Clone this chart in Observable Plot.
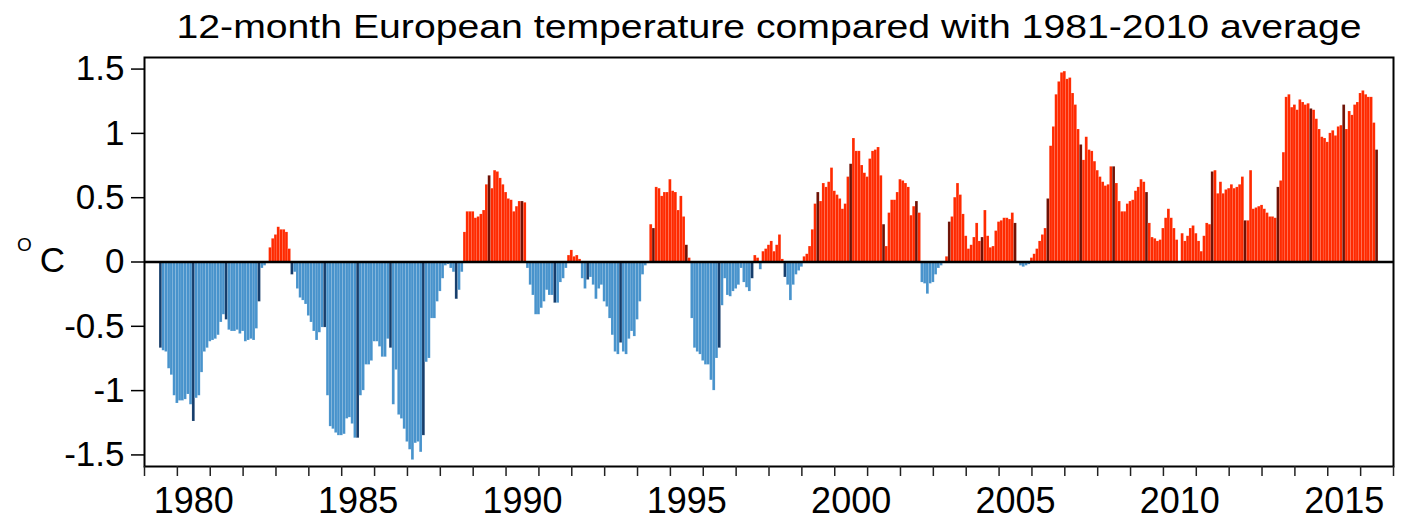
<!DOCTYPE html>
<html>
<head>
<meta charset="utf-8">
<script src="https://cdn.jsdelivr.net/npm/d3@7"></script>
<script src="https://cdn.jsdelivr.net/npm/@observablehq/plot@0.6"></script>
<style>
  body { margin: 0; background: #fff; font-family: "Liberation Sans", Arial, Helvetica, sans-serif; }
  #title { position: relative; height: 40px; width: 1404px; }
  #title span { position: absolute; left: 768.5px; top: 0; line-height: 52px; font-size: 34px;
                white-space: nowrap; transform-origin: center; color: #000; }
</style>
</head>
<body>
<div id="title"><span></span></div>
<div id="chart"></div>
<script>
const titleText = "12-month European temperature compared with 1981-2010 average";
const unitBig = "C";
const unitSmall = "O";

// 12-month running mean anomaly (°C), one bar per month, first bar = 12 months of 1979
const startYear = 1979;
const anomalies = [
  /*1979*/ -0.67, -0.69, -0.70, -0.83, -0.88, -1.04, -1.10, -1.08, -1.08, -1.07, -1.03, -1.11,
  /*1980*/ -1.24, -1.06, -1.04, -0.86, -0.70, -0.67, -0.62, -0.61, -0.60, -0.57, -0.47, -0.41,
  /*1981*/ -0.45, -0.53, -0.54, -0.54, -0.53, -0.56, -0.54, -0.62, -0.61, -0.60, -0.61, -0.52,
  /*1982*/ -0.31, -0.05, -0.03, -0.01, 0.11, 0.18, 0.21, 0.27, 0.25, 0.25, 0.23, 0.10,
  /*1983*/ -0.10, -0.08, -0.21, -0.28, -0.30, -0.33, -0.42, -0.47, -0.54, -0.61, -0.55, -0.51,
  /*1984*/ -0.51, -1.04, -1.28, -1.30, -1.33, -1.35, -1.35, -1.34, -1.22, -1.21, -1.26, -1.37,
  /*1985*/ -1.37, -1.04, -1.00, -0.80, -0.80, -0.77, -0.62, -0.62, -0.66, -0.74, -0.74, -0.60,
  /*1986*/ -0.67, -1.11, -0.84, -1.19, -1.22, -1.30, -1.40, -1.46, -1.54, -1.41, -1.40, -1.48,
  /*1987*/ -1.35, -0.78, -0.75, -0.44, -0.44, -0.31, -0.23, -0.13, -0.03, -0.02, -0.05, -0.08,
  /*1988*/ -0.29, -0.22, -0.08, 0.23, 0.39, 0.39, 0.39, 0.34, 0.35, 0.37, 0.40, 0.60,
  /*1989*/ 0.67, 0.57, 0.71, 0.70, 0.65, 0.60, 0.54, 0.49, 0.48, 0.39, 0.43, 0.47,
  /*1990*/ 0.47, 0.46, -0.05, -0.18, -0.26, -0.41, -0.41, -0.36, -0.31, -0.22, -0.26, -0.26,
  /*1991*/ -0.32, -0.32, -0.16, -0.13, -0.05, 0.05, 0.09, 0.04, 0.05, 0.02, -0.13, -0.21,
  /*1992*/ -0.14, -0.12, -0.18, -0.29, -0.21, -0.18, -0.31, -0.35, -0.44, -0.57, -0.70, -0.72,
  /*1993*/ -0.63, -0.70, -0.72, -0.60, -0.54, -0.58, -0.45, -0.31, -0.10, -0.03, -0.01, 0.29,
  /*1994*/ 0.26, 0.58, 0.57, 0.51, 0.54, 0.54, 0.64, 0.55, 0.54, 0.40, 0.51, 0.35,
  /*1995*/ 0.13, 0.03, -0.44, -0.67, -0.70, -0.72, -0.77, -0.80, -0.80, -0.92, -1.00, -0.75,
  /*1996*/ -0.67, -0.34, -0.13, -0.26, -0.27, -0.23, -0.21, -0.18, -0.05, -0.16, -0.20, -0.23,
  /*1997*/ -0.13, 0.05, 0.03, -0.06, 0.08, 0.10, 0.13, 0.16, 0.08, 0.13, 0.21, 0.02,
  /*1998*/ -0.12, -0.18, -0.30, -0.18, -0.10, -0.07, -0.04, 0.04, 0.06, 0.12, 0.25, 0.45,
  /*1999*/ 0.54, 0.47, 0.61, 0.58, 0.62, 0.73, 0.55, 0.52, 0.49, 0.41, 0.45, 0.66,
  /*2000*/ 0.76, 0.96, 0.86, 0.86, 0.75, 0.69, 0.66, 0.80, 0.86, 0.87, 0.89, 0.67,
  /*2001*/ 0.29, 0.12, 0.38, 0.48, 0.48, 0.54, 0.64, 0.63, 0.61, 0.58, 0.36, 0.43,
  /*2002*/ 0.47, 0.38, -0.16, -0.17, -0.25, -0.17, -0.16, -0.10, -0.05, -0.03, -0.01, 0.04,
  /*2003*/ 0.31, 0.35, 0.50, 0.61, 0.52, 0.37, 0.20, 0.10, 0.13, 0.19, 0.30, 0.16,
  /*2004*/ 0.19, 0.40, 0.20, 0.11, 0.12, 0.24, 0.31, 0.32, 0.34, 0.34, 0.33, 0.38,
  /*2005*/ 0.30, -0.01, -0.03, -0.04, -0.03, -0.02, 0.03, 0.06, 0.10, 0.16, 0.21, 0.26,
  /*2006*/ 0.49, 0.90, 1.05, 1.30, 1.40, 1.47, 1.48, 1.42, 1.43, 1.31, 1.22, 1.03,
  /*2007*/ 0.91, 0.79, 0.97, 0.87, 0.86, 0.78, 0.71, 0.66, 0.62, 0.59, 0.60, 0.74,
  /*2008*/ 0.74, 0.61, 0.47, 0.39, 0.39, 0.45, 0.47, 0.48, 0.55, 0.58, 0.64, 0.62,
  /*2009*/ 0.54, 0.30, 0.19, 0.18, 0.16, 0.17, 0.26, 0.34, 0.41, 0.34, 0.26, 0.17,
  /*2010*/ -0.01, 0.22, 0.16, 0.20, 0.26, 0.28, 0.22, 0.16, 0.08, 0.20, 0.30, 0.29,
  /*2011*/ 0.70, 0.71, 0.53, 0.62, 0.53, 0.56, 0.57, 0.60, 0.57, 0.58, 0.60, 0.66,
  /*2012*/ 0.32, 0.32, 0.71, 0.41, 0.42, 0.43, 0.44, 0.41, 0.38, 0.35, 0.35, 0.34,
  /*2013*/ 0.58, 0.63, 0.85, 1.28, 1.30, 1.20, 1.22, 1.18, 1.26, 1.24, 1.22, 1.23,
  /*2014*/ 1.19, 1.18, 1.11, 1.03, 0.97, 0.96, 0.93, 1.00, 1.02, 0.98, 1.05, 1.06,
  /*2015*/ 1.22, 1.03, 1.17, 1.14, 1.22, 1.24, 1.31, 1.33, 1.30, 1.28, 1.28, 1.08,
  /*2016*/ 0.87
];

const yTickValues = [-1.5, -1, -0.5, 0, 0.5, 1, 1.5];
const yTickLabels = ["-1.5", "-1", "-0.5", "0", "0.5", "1", "1.5"];
const xLabelYears = [1980, 1985, 1990, 1995, 2000, 2005, 2010, 2015];
const xDomain = [1979, 2017];
const yDomain = [-1.59, 1.59];

const colors = { warm: "#ff2a00", cold: "#4893cc", warmYear: "#6e1206", coldYear: "#163d6b" };

const rows = anomalies.map((v, i) => {
  const center = startYear + 0.5 + i / 12;
  const calendarYear = i % 12 === 0;
  return {
    x1: center - 0.5 / 12,
    x2: center + 0.5 / 12,
    value: v,
    color: v >= 0 ? (calendarYear ? colors.warmYear : colors.warm)
                  : (calendarYear ? colors.coldYear : colors.cold)
  };
});

const yearTicks = d3.range(xDomain[0], xDomain[1] + 1);
const xLabelPositions = xLabelYears.map(y => y + 0.5);

const chart = Plot.plot({
  width: 1404,
  height: 481,
  marginTop: 17,
  marginBottom: 55,
  marginLeft: 144,
  marginRight: 11,
  style: { fontFamily: "Liberation Sans, Arial, Helvetica, sans-serif", color: "black", background: "white" },
  x: { domain: xDomain },
  y: { domain: yDomain },
  marks: [
    Plot.rect(rows, { x1: "x1", x2: "x2", y1: () => 0, y2: "value", fill: "color",
                      stroke: "white", strokeOpacity: 0.18, strokeWidth: 0.5 }),
    Plot.ruleY([0], { stroke: "black", strokeWidth: 2.5 }),
    Plot.frame({ stroke: "black", strokeWidth: 2 }),
    Plot.axisY(yTickValues, { label: null, tickSize: 13, tickPadding: 7, fontSize: 35, strokeWidth: 1.5,
      tickFormat: d => yTickLabels[yTickValues.indexOf(d)] }),
    Plot.axisX(yearTicks, { label: null, tickSize: 10, strokeWidth: 1.5, stroke: "#222", tickFormat: () => "" }),
    Plot.axisX(xLabelPositions, { label: null, tickSize: 0, tickPadding: 21, fontSize: 36,
      tickFormat: d => String(xLabelYears[xLabelPositions.indexOf(d)]) }),
    Plot.text([unitBig], { frameAnchor: "left", textAnchor: "middle", dx: -92, dy: -1, fontSize: 35 }),
    Plot.text([unitSmall], { frameAnchor: "left", textAnchor: "middle", dx: -120, dy: -17, fontSize: 19 })
  ]
});
document.getElementById("chart").appendChild(chart);

const span = document.querySelector("#title span");
span.textContent = titleText;
const w = span.getBoundingClientRect().width;
span.style.transform = `translateX(-50%) scaleX(${1185 / w})`;
</script>
</body>
</html>
